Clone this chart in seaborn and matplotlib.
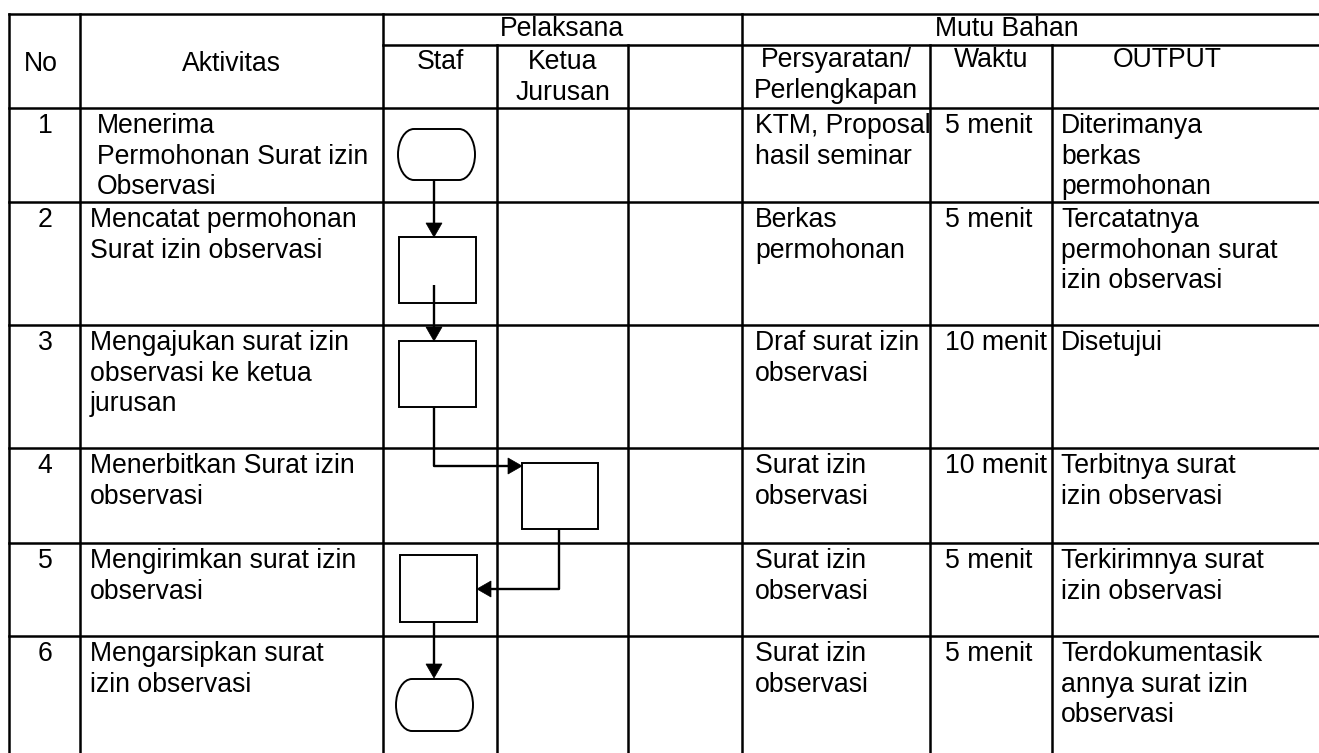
import matplotlib
matplotlib.use("Agg")
import matplotlib.pyplot as plt
import seaborn as sns
from matplotlib.path import Path
from matplotlib.patches import PathPatch, Rectangle, Polygon

sns.set_theme(style="white")
plt.rcParams['font.family'] = ['Liberation Sans', 'DejaVu Sans']

# ---------------- data (table content) ----------------
header_top = ["Pelaksana", "Mutu Bahan"]
header_cols = ["No", "Aktivitas", "Staf", "Ketua\nJurusan", "", "Persyaratan/\nPerlengkapan", "Waktu", "OUTPUT"]
numbers = ["1", "2", "3", "4", "5", "6"]
aktivitas = [
    "Menerima\nPermohonan Surat izin\nObservasi",
    "Mencatat permohonan\nSurat izin observasi",
    "Mengajukan surat izin\nobservasi ke ketua\njurusan",
    "Menerbitkan Surat izin\nobservasi",
    "Mengirimkan surat izin\nobservasi",
    "Mengarsipkan surat\nizin observasi",
]
persyaratan = [
    "KTM, Proposal\nhasil seminar",
    "Berkas\npermohonan",
    "Draf surat izin\nobservasi",
    "Surat izin\nobservasi",
    "Surat izin\nobservasi",
    "Surat izin\nobservasi",
]
waktu = ["5 menit", "5 menit", "10 menit", "10 menit", "5 menit", "5 menit"]
output = [
    "Diterimanya\nberkas\npermohonan",
    "Tercatatnya\npermohonan surat\nizin observasi",
    "Disetujui",
    "Terbitnya surat\nizin observasi",
    "Terkirimnya surat\nizin observasi",
    "Terdokumentasik\nannya surat izin\nobservasi",
]
# which lane each step's symbol sits in (0 = Staf, 1 = Ketua Jurusan)
step_lane = [0, 0, 0, 1, 0, 0]
step_kind = ["terminal", "process", "process", "process", "process", "terminal"]

# ---------------- layout ----------------
W, H = 1319, 753
FS = 19.2          # pt  (~26.7 px em at 100 dpi)
LINE = 30.7        # px line pitch
LW_T = 1.8
LW_S = 1.4

col_x = [9, 80, 383, 497, 628, 742, 930, 1052, W]
y_top, y_mid, y_head = 14, 45, 108
row_y = [108, 202, 325, 448, 543, 636, H + 5]

fig = plt.figure(figsize=(W / 100, H / 100), dpi=100)
ax = fig.add_axes([0, 0, 1, 1])
ax.set_xlim(0, W)
ax.set_ylim(H, 0)
ax.axis('off')


def hline(x0, x1, y, lw=LW_T):
    ax.plot([x0, x1], [y, y], color='black', lw=lw, solid_capstyle='projecting')


def vline(x, y0, y1, lw=LW_T):
    ax.plot([x, x], [y0, y1], color='black', lw=lw, solid_capstyle='projecting')


def text_block(x, y, s, ha='left'):
    for i, line in enumerate(s.split("\n")):
        ax.text(x, y + i * LINE, line, ha=ha, va='baseline', fontsize=FS, color='black')


# table grid
hline(col_x[0], W, y_top)
hline(col_x[2], W, y_mid)
for y in row_y[:-1]:
    hline(col_x[0], W, y)
for i, x in enumerate(col_x[:-1]):
    start = y_top if i in (0, 1, 2, 5) else y_mid
    vline(x, start, H + 5)

# headers
text_block((col_x[2] + col_x[5]) / 2, 36, header_top[0], ha='center')
text_block(1007, 36, header_top[1], ha='center')
text_block(41, 71, header_cols[0], ha='center')
text_block(231, 71, header_cols[1], ha='center')
text_block(440, 69, header_cols[2], ha='center')
text_block(562.5, 69, header_cols[3], ha='center')
text_block(836, 67, header_cols[5], ha='center')
text_block(991, 67, header_cols[6], ha='center')
text_block(1167, 67, header_cols[7], ha='center')

# body text
for i in range(6):
    yb = row_y[i] + 25
    text_block(45, yb, numbers[i], ha='center')
    text_block(97 if i == 0 else 90, yb, aktivitas[i])
    text_block(755, yb, persyaratan[i])
    text_block(945, yb, waktu[i])
    text_block(1061, yb, output[i])

# ---------------- flow symbols ----------------
shapes = [
    (398, 129, 475, 180),
    (399, 237, 476, 303),
    (399, 341, 476, 407),
    (522, 463, 598, 529),
    (400, 555, 477, 622),
    (396, 679, 473, 731),
]


def terminal(x0, y0, x1, y1, rx=16):
    ry = (y1 - y0) / 2
    k = 0.5523
    verts = [
        (x0 + rx, y0), (x1 - rx, y0),
        (x1 - rx + k * rx, y0), (x1, y0 + ry - k * ry), (x1, y0 + ry),
        (x1, y0 + ry + k * ry), (x1 - rx + k * rx, y1), (x1 - rx, y1),
        (x0 + rx, y1),
        (x0 + rx - k * rx, y1), (x0, y1 - ry + k * ry), (x0, y1 - ry),
        (x0, y0 + ry - k * ry), (x0 + rx - k * rx, y0), (x0 + rx, y0),
        (x0 + rx, y0),
    ]
    codes = [Path.MOVETO, Path.LINETO,
             Path.CURVE4, Path.CURVE4, Path.CURVE4,
             Path.CURVE4, Path.CURVE4, Path.CURVE4,
             Path.LINETO,
             Path.CURVE4, Path.CURVE4, Path.CURVE4,
             Path.CURVE4, Path.CURVE4, Path.CURVE4,
             Path.CLOSEPOLY]
    ax.add_patch(PathPatch(Path(verts, codes), fc='white', ec='black', lw=LW_S, zorder=3))


for kind, (x0, y0, x1, y1) in zip(step_kind, shapes):
    if kind == "terminal":
        terminal(x0, y0, x1, y1)
    else:
        ax.add_patch(Rectangle((x0, y0), x1 - x0, y1 - y0, fc='white', ec='black', lw=LW_S, zorder=3))


def arrow(points, hl=14, hw=8):
    xs = [p[0] for p in points]
    ys = [p[1] for p in points]
    (xa, ya), (xb, yb) = points[-2], points[-1]
    dx, dy = xb - xa, yb - ya
    n = (dx ** 2 + dy ** 2) ** 0.5
    ux, uy = dx / n, dy / n
    bx, by = xb - ux * hl, yb - uy * hl
    xs[-1], ys[-1] = bx, by
    ax.plot(xs, ys, color='black', lw=1.7, zorder=4, solid_capstyle='butt')
    px, py = -uy, ux
    ax.add_patch(Polygon([(xb, yb), (bx + px * hw, by + py * hw), (bx - px * hw, by - py * hw)],
                         closed=True, fc='black', ec='black', lw=0.5, zorder=4))


arrow([(434, 180), (434, 237)])
arrow([(434, 285), (434, 341)])
arrow([(434, 407), (434, 466), (522, 466)])
arrow([(559, 529), (559, 589), (477, 589)])
arrow([(434, 622), (434, 678)])

fig.savefig("out.png", dpi=100)
